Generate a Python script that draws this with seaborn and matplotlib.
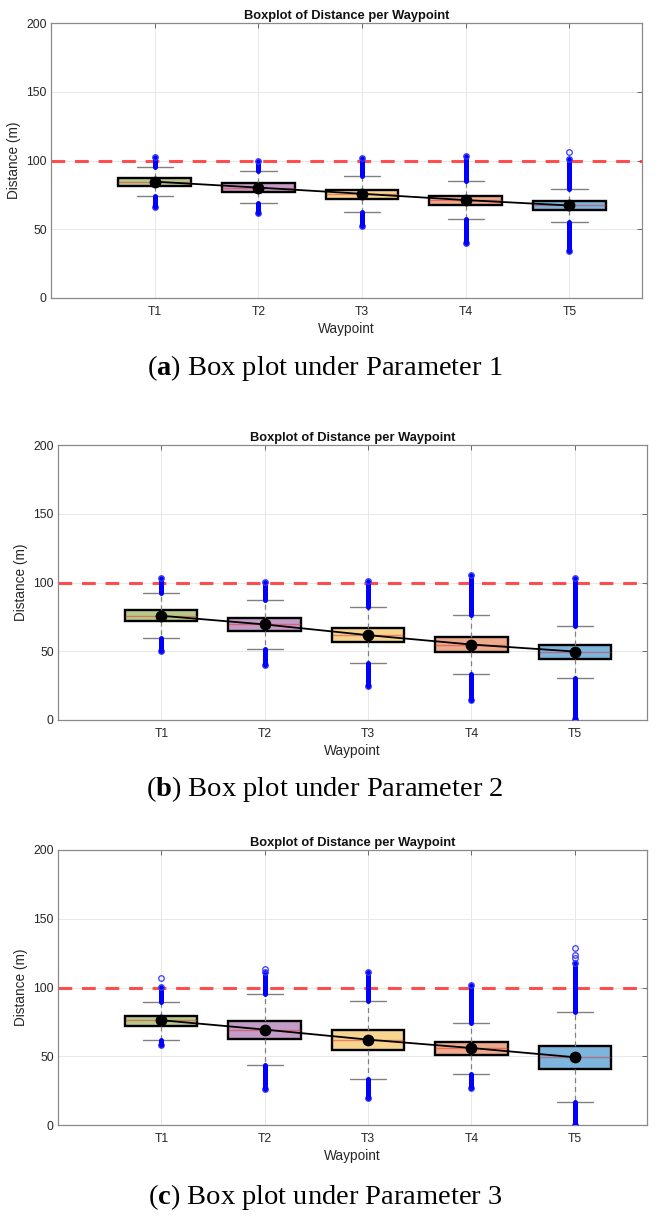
import numpy as np
import pandas as pd
import matplotlib
matplotlib.use('Agg')
import matplotlib.pyplot as plt
import seaborn as sns

sns.set_theme(style="whitegrid")
plt.rcParams['font.family'] = ['Liberation Sans', 'DejaVu Sans']
plt.rcParams['mathtext.fontset'] = 'custom'
plt.rcParams['mathtext.rm'] = 'Liberation Serif'
plt.rcParams['mathtext.bf'] = 'Liberation Serif:bold'

# categorias e cores das caixas
waypoints = ['T1', 'T2', 'T3', 'T4', 'T5']
box_colors = ['#b6c98a', '#c49cc8', '#f6d58e', '#eeaa8c', '#7db5dd']
limit_distance = 100

# Parametro 1
p1_whislo = [74.1, 68.8, 62.5, 57.4, 55.2]
p1_q1 = [81.7, 77.0, 72.2, 67.6, 64.2]
p1_med = [84.6, 80.3, 75.8, 71.2, 67.3]
p1_q3 = [87.2, 83.4, 78.7, 74.4, 70.2]
p1_whishi = [95.0, 92.1, 88.7, 84.8, 79.5]
p1_flier_min = [66.5, 61.5, 52.5, 40.0, 34.0]
p1_flier_max = [102.5, 99.5, 101.5, 103.5, 101.0]
p1_extra_x = ['T5']
p1_extra_y = [106.2]

# Parametro 2
p2_whislo = [59.3, 51.5, 41.6, 33.5, 30.6]
p2_q1 = [71.7, 64.9, 56.9, 49.3, 44.7]
p2_med = [75.8, 69.5, 61.7, 54.9, 49.8]
p2_q3 = [80.0, 73.9, 67.1, 60.3, 54.2]
p2_whishi = [92.6, 87.5, 82.4, 76.3, 68.3]
p2_flier_min = [50.5, 40.0, 24.5, 14.5, 0.5]
p2_flier_max = [103.5, 100.5, 101.0, 105.5, 103.0]
p2_extra_x = []
p2_extra_y = []

# Parametro 3
p3_whislo = [62.1, 43.7, 33.7, 37.1, 16.5]
p3_q1 = [72.3, 62.9, 54.6, 50.7, 40.8]
p3_med = [76.2, 69.4, 62.1, 56.0, 49.3]
p3_q3 = [79.6, 76.0, 68.9, 60.4, 57.5]
p3_whishi = [89.8, 95.4, 90.0, 74.3, 82.0]
p3_flier_min = [58.0, 26.5, 20.0, 27.0, 0.3]
p3_flier_max = [100.5, 111.0, 111.5, 102.0, 118.0]
p3_extra_x = ['T1', 'T2', 'T5', 'T5', 'T5']
p3_extra_y = [106.6, 113.8, 121.5, 123.5, 128.4]

panels = [
    (p1_whislo, p1_q1, p1_med, p1_q3, p1_whishi, p1_flier_min, p1_flier_max,
     p1_extra_x, p1_extra_y, 'a', '1'),
    (p2_whislo, p2_q1, p2_med, p2_q3, p2_whishi, p2_flier_min, p2_flier_max,
     p2_extra_x, p2_extra_y, 'b', '2'),
    (p3_whislo, p3_q1, p3_med, p3_q3, p3_whishi, p3_flier_min, p3_flier_max,
     p3_extra_x, p3_extra_y, 'c', '3'),
]

# posicoes dos eixos em fracao da figura (659 x 1220 px)
axes_rects = [
    [51 / 659, 1 - 298 / 1220, 591 / 659, 275 / 1220],
    [58 / 659, 1 - 720 / 1220, 589 / 659, 275 / 1220],
    [58 / 659, 1 - 1125 / 1220, 589 / 659, 275 / 1220],
]
caption_y = [1 - 368 / 1220, 1 - 789 / 1220, 1 - 1197 / 1220]

fig = plt.figure(figsize=(6.59, 12.2), dpi=100)

for k, (wlo, q1, med, q3, whi, fmin, fmax, ex_x, ex_y, letter, num) in enumerate(panels):
    ax = fig.add_axes(axes_rects[k])

    # cada caixa vem dos 5 numeros-resumo: min/max do bigode = whis (0, 100)
    rows = []
    for i, w in enumerate(waypoints):
        for v in (wlo[i], q1[i], med[i], q3[i], whi[i]):
            rows.append({'Waypoint': w, 'Distance': v})
    df = pd.DataFrame(rows)

    ax.axhline(limit_distance, color='#ff3030', alpha=0.85, linewidth=2.2,
               dashes=(4.5, 3.2), zorder=2.5)

    sns.boxplot(data=df, x='Waypoint', y='Distance', hue='Waypoint',
                palette=box_colors, saturation=1, width=0.7, whis=(0, 100),
                showfliers=False, linecolor='black', linewidth=1.7,
                legend=False, ax=ax,
                whiskerprops=dict(color='#808080', linewidth=0.9,
                                  linestyle=(0, (4, 3))),
                capprops=dict(color='#808080', linewidth=1.0),
                medianprops=dict(color='#e03030', linewidth=1.0, alpha=0.5))

    # outliers densos: colunas azuis de circulos sobrepostos
    xpos = np.arange(len(waypoints))
    ax.vlines(xpos, whi, fmax, color='blue', linewidth=3.6,
              capstyle='round', zorder=3)
    ax.vlines(xpos, fmin, wlo, color='blue', linewidth=3.6,
              capstyle='round', zorder=3)
    ax.plot(xpos, fmax, 'o', mfc='none', mec='#3a3aff', ms=4, mew=0.9,
            linestyle='none', zorder=3)
    ax.plot(xpos, fmin, 'o', mfc='none', mec='#3a3aff', ms=4, mew=0.9,
            linestyle='none', zorder=3)
    if ex_x:
        ex_pos = [waypoints.index(w) for w in ex_x]
        ax.plot(ex_pos, ex_y, 'o', mfc='none', mec='#3a3aff', ms=4, mew=0.9,
                linestyle='none', zorder=3)

    # linha das medianas
    sns.pointplot(x=waypoints, y=med, color='black', markers='o',
                  markersize=7.5, linewidth=1.3, errorbar=None, ax=ax)
    for coll in ax.collections[-1:]:
        coll.set_zorder(5)
    for ln in ax.lines[-1:]:
        ln.set_zorder(5)

    ax.set_xlim(-1, 4.7)
    ax.set_ylim(0, 200)
    ax.set_yticks([0, 50, 100, 150, 200])
    ax.grid(True, color='#e4e4e4', linewidth=0.6)
    ax.set_axisbelow(True)
    for sp in ax.spines.values():
        sp.set_color('#8a8a8a')
        sp.set_linewidth(0.9)
    ax.tick_params(direction='in', length=3.5, width=0.6, top=True, right=True,
                   color='#555555', labelcolor='#262626', labelsize=8.8)
    ax.tick_params(axis='x', pad=6)
    ax.tick_params(axis='y', pad=3)

    ax.set_title('Boxplot of Distance per Waypoint', fontsize=9.3,
                 fontweight='bold', color='#111111', pad=3)
    ax.set_xlabel('Waypoint', fontsize=9.8, color='#262626', labelpad=2.5)
    ax.set_ylabel('Distance (m)', fontsize=9.8, color='#262626', labelpad=4)

    fig.text(0.493, caption_y[k],
             r'($\mathbf{' + letter + r'}$) Box plot under Parameter ' + num,
             ha='center', va='center', fontsize=20.5, family='Liberation Serif',
             color='black')

plt.savefig('out.png', dpi=100)
plt.close()
